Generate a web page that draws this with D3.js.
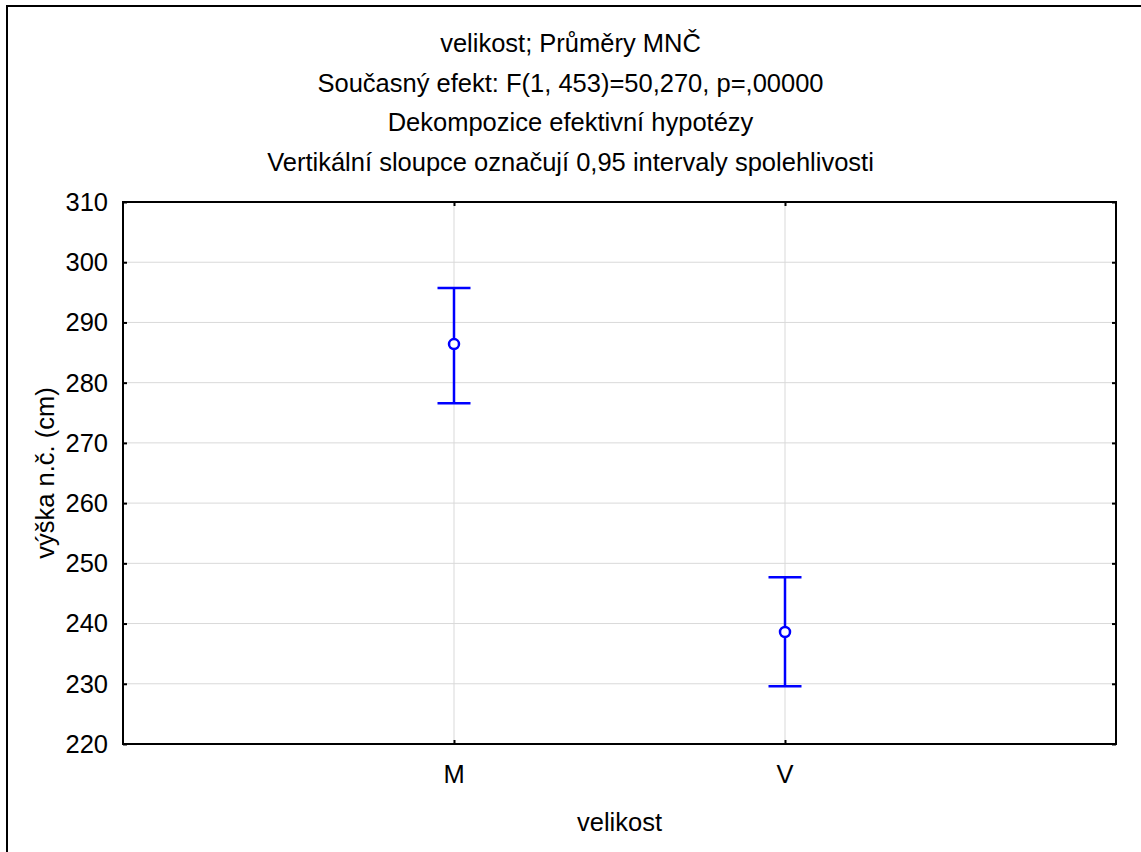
<!DOCTYPE html>
<html>
<head>
<meta charset="utf-8">
<script src="https://cdn.jsdelivr.net/npm/d3@7"></script>
<style>
  html, body { margin: 0; padding: 0; background: #fff; }
  svg { display: block; }
  text { font-family: "Liberation Sans", Arial, sans-serif; fill: #000; }
</style>
</head>
<body>
<svg id="chart" width="1141" height="852"></svg>
<script>
const titleLines = [
  "velikost; Průměry MNČ",
  "Současný efekt: F(1, 453)=50,270, p=,00000",
  "Dekompozice efektivní hypotézy",
  "Vertikální sloupce označují 0,95 intervaly spolehlivosti"
];
const categories = ["M", "V"];
const means = [286.4, 238.6];
const lower = [276.6, 229.6];
const upper = [295.7, 247.7];
const yTicks = [220, 230, 240, 250, 260, 270, 280, 290, 300, 310];
const xLabel = "velikost";
const yLabel = "výška n.č. (cm)";

const W = 1141, H = 852;
const FS = 25.5;
const m = { left: 123, right: 1116, top: 202, bottom: 744 };
const svg = d3.select("#chart");

// outer frame
svg.append("rect").attr("x", 7).attr("y", 6).attr("width", W + 10).attr("height", H + 10)
  .attr("fill", "none").attr("stroke", "#000").attr("stroke-width", 2);

const x = d3.scalePoint().domain(categories).range([m.left, m.right]).padding(1);
const y = d3.scaleLinear().domain([220, 310]).range([m.bottom, m.top]);

// grid
const g = svg.append("g");
g.selectAll("line.hg").data(yTicks.slice(1, -1)).join("line")
  .attr("x1", m.left).attr("x2", m.right)
  .attr("y1", d => y(d)).attr("y2", d => y(d))
  .attr("stroke", "#d9d9d9").attr("stroke-width", 1);
g.selectAll("line.vg").data(categories).join("line")
  .attr("x1", d => x(d)).attr("x2", d => x(d))
  .attr("y1", m.top).attr("y2", m.bottom)
  .attr("stroke", "#d9d9d9").attr("stroke-width", 1);

// axes (inner ticks)
const tk = 4;
svg.append("g").attr("transform", `translate(${m.left},0)`)
  .call(d3.axisRight(y).tickValues(yTicks).tickSize(tk).tickFormat(""))
  .call(a => a.select(".domain").remove())
  .call(a => a.selectAll("line").attr("stroke-width", 2));
svg.append("g").attr("transform", `translate(${m.right},0)`)
  .call(d3.axisLeft(y).tickValues(yTicks).tickSize(tk).tickFormat(""))
  .call(a => a.select(".domain").remove())
  .call(a => a.selectAll("line").attr("stroke-width", 2));
svg.append("g").attr("transform", `translate(0,${m.bottom})`)
  .call(d3.axisTop(x).tickSize(tk).tickFormat(""))
  .call(a => a.select(".domain").remove())
  .call(a => a.selectAll("line").attr("stroke-width", 2));
svg.append("g").attr("transform", `translate(0,${m.top})`)
  .call(d3.axisBottom(x).tickSize(tk).tickFormat(""))
  .call(a => a.select(".domain").remove())
  .call(a => a.selectAll("line").attr("stroke-width", 2));

// tick labels
svg.selectAll("text.yt").data(yTicks).join("text")
  .attr("x", 108).attr("y", d => y(d)).attr("dy", "0.35em")
  .attr("text-anchor", "end").attr("font-size", FS).text(d => d);
svg.selectAll("text.xt").data(categories).join("text")
  .attr("x", d => x(d)).attr("y", 774).attr("dy", "0.35em")
  .attr("text-anchor", "middle").attr("font-size", FS).text(d => d);

// frame
svg.append("rect").attr("x", m.left).attr("y", m.top)
  .attr("width", m.right - m.left).attr("height", m.bottom - m.top)
  .attr("fill", "none").attr("stroke", "#000").attr("stroke-width", 2);

// error bars
const blue = "#0000ff";
const cap = 16.5;
const eb = svg.append("g").attr("stroke", blue).attr("stroke-width", 2.5).attr("fill", "none");
categories.forEach((c, i) => {
  const cx = x(c);
  eb.append("line").attr("x1", cx).attr("x2", cx).attr("y1", y(upper[i])).attr("y2", y(lower[i]));
  eb.append("line").attr("x1", cx - cap).attr("x2", cx + cap).attr("y1", y(upper[i])).attr("y2", y(upper[i]));
  eb.append("line").attr("x1", cx - cap).attr("x2", cx + cap).attr("y1", y(lower[i])).attr("y2", y(lower[i]));
  eb.append("circle").attr("cx", cx).attr("cy", y(means[i])).attr("r", 5).attr("fill", "#fff");
});

// titles
svg.selectAll("text.title").data(titleLines).join("text")
  .attr("x", W / 2).attr("y", (d, i) => 43 + i * 39.7).attr("dy", "0.35em")
  .attr("text-anchor", "middle").attr("font-size", FS).text(d => d);

// axis labels
svg.append("text").attr("x", (m.left + m.right) / 2).attr("y", 822).attr("dy", "0.35em")
  .attr("text-anchor", "middle").attr("font-size", FS).text(xLabel);
svg.append("text").attr("transform", `translate(45,${(m.top + m.bottom) / 2}) rotate(-90)`)
  .attr("dy", "0.35em").attr("text-anchor", "middle").attr("font-size", FS).text(yLabel);
</script>
</body>
</html>
